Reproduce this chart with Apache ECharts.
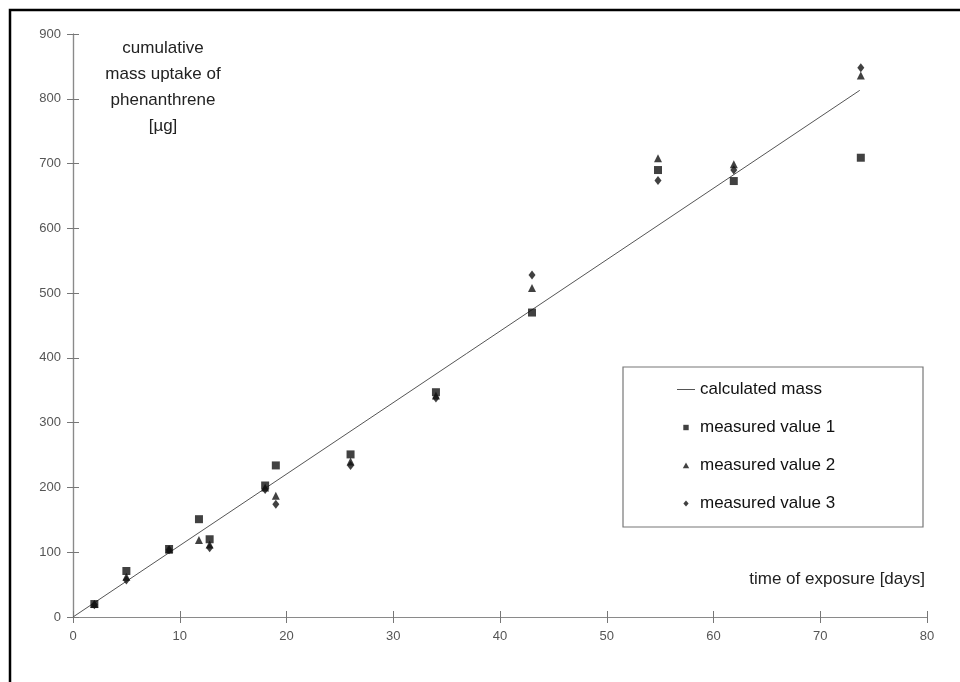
<!DOCTYPE html>
<html>
<head>
<meta charset="utf-8">
<script src="https://cdn.jsdelivr.net/npm/echarts@6/dist/echarts.min.js"></script>
<style>html,body{margin:0;padding:0;background:#fff}#c{width:960px;height:682px}</style>
</head>
<body>
<div id="c"></div>
<script>
// ---- data ----
const days = [2, 5, 9, 11.8, 12.8, 18, 19, 26, 34, 43, 54.8, 61.9, 73.8];
const measured1 = [20, 71, 105, 151, 120, 203, 234, 251, 347, 470, 690, 673, 709];
const measured2 = [20, 62, 104, 119, 112, 200, 187, 240, 342, 508, 708, 699, 836];
const measured3 = [19, 57, 104, null, 107, 197, 174, 234, 338, 528, 674, 690, 848];
const calcDays = [0, 73.7];
const calcMass = [0, 813];
const seriesNames = ['calculated mass', 'measured value 1', 'measured value 2', 'measured value 3'];
const yTitleLines = ['cumulative', 'mass uptake of', 'phenanthrene', '[µg]'];
const xTitle = 'time of exposure [days]';

const pair = (xs, ys) => xs.map((x, i) => [x, ys[i]]).filter(p => p[1] !== null);

const FONT = '"Liberation Sans", Arial, sans-serif';
const axisCommon = {
  type: 'value',
  axisLine: { show: true, lineStyle: { color: '#8a8a8a', width: 1.2 } },
  splitLine: { show: false },
  axisLabel: { color: '#555', fontFamily: FONT, fontSize: 13 },
  axisTick: { show: true, length: 6, lineStyle: { color: '#777', width: 1 } }
};

// legend icons: bounding box 18x8 so each marker keeps its size
const pad = 'M0,0L0,0M18,8L18,8';
const icons = [
  'path://M0,4L18,4L18,5L0,5Z',
  'path://' + pad + 'M6.3,1.3L11.7,1.3L11.7,6.7L6.3,6.7Z',
  'path://' + pad + 'M9,1L12.2,6.7L5.8,6.7Z',
  'path://' + pad + 'M9,1L11.6,4L9,7L6.4,4Z'
];

const chart = echarts.init(document.getElementById('c'), null, { renderer: 'canvas' });
chart.setOption({
  backgroundColor: '#fff',
  animation: false,
  grid: { left: 73, right: 33, top: 34, bottom: 65 },
  xAxis: [
    Object.assign({}, axisCommon, { min: 0, max: 80, interval: 10,
      axisLabel: Object.assign({}, axisCommon.axisLabel, { margin: 13 }) }),
    Object.assign({}, axisCommon, { min: 0, max: 80, interval: 10, position: 'bottom',
      axisLabel: { show: false },
      axisTick: { show: true, inside: true, length: 6, lineStyle: { color: '#777', width: 1 } } })
  ],
  yAxis: [
    Object.assign({}, axisCommon, { min: 0, max: 900, interval: 100,
      axisLabel: Object.assign({}, axisCommon.axisLabel, { margin: 12 }) }),
    Object.assign({}, axisCommon, { min: 0, max: 900, interval: 100, position: 'left',
      axisLabel: { show: false },
      axisTick: { show: true, inside: true, length: 6, lineStyle: { color: '#777', width: 1 } } })
  ],
  legend: {
    orient: 'vertical',
    left: 672, top: 376,
    itemGap: 21,
    itemWidth: 18, itemHeight: 8,
    textStyle: { color: '#111', fontFamily: FONT, fontSize: 17 },
    data: seriesNames.map((n, i) => ({ name: n, icon: icons[i] }))
  },
  graphic: [
    { type: 'rect', z: 100, silent: true,
      shape: { x: 10, y: 10, width: 1200, height: 1000 },
      style: { fill: null, stroke: '#000', lineWidth: 2.5 } },
    { type: 'rect', z: 1, silent: true,
      shape: { x: 623, y: 367, width: 300, height: 160 },
      style: { fill: '#fff', stroke: '#777', lineWidth: 1.2 } },
    { type: 'text', z: 50, silent: true,
      x: 163, y: 35,
      style: { text: yTitleLines.join('\n'), fill: '#222', font: '17px ' + FONT,
        textAlign: 'center', lineHeight: 26 } },
    { type: 'text', z: 50, silent: true,
      x: 925, y: 571,
      style: { text: xTitle, fill: '#222', font: '17px ' + FONT, textAlign: 'right' } }
  ],
  series: [
    { name: seriesNames[0], type: 'line', symbol: 'none', z: 2,
      data: pair(calcDays, calcMass),
      lineStyle: { color: '#555', width: 1 }, itemStyle: { color: '#555' } },
    { name: seriesNames[1], type: 'scatter', symbol: 'rect', symbolSize: 8, z: 3,
      data: pair(days, measured1), itemStyle: { color: '#111' } },
    { name: seriesNames[2], type: 'scatter', symbol: 'triangle', symbolSize: 8, z: 3,
      data: pair(days, measured2), itemStyle: { color: '#111' } },
    { name: seriesNames[3], type: 'scatter', symbol: 'diamond', symbolSize: [7, 9], z: 3,
      data: pair(days, measured3), itemStyle: { color: '#111' } }
  ]
});
</script>
</body>
</html>
